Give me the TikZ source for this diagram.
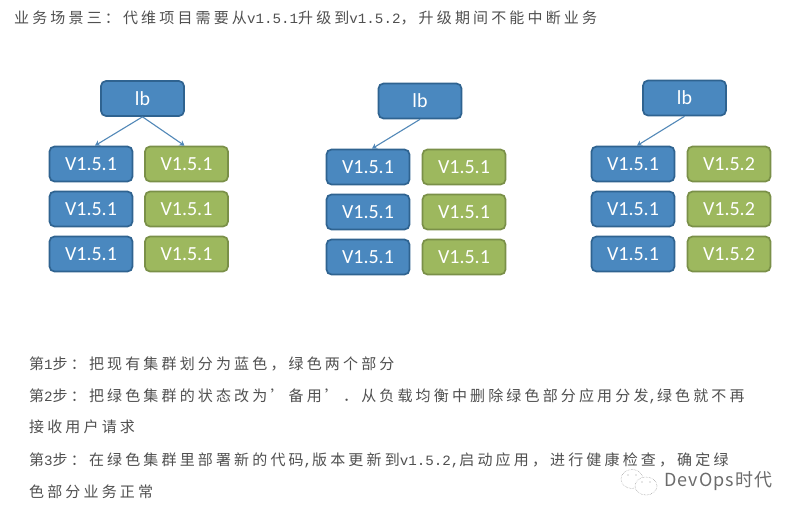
\documentclass[tikz,border=0pt]{standalone}
\usepackage{fontspec}
\setmainfont{Carlito}
\newfontfamily\cjkf[LetterSpace=21]{Noto Sans CJK SC}
\newfontfamily\wmf[LetterSpace=6]{Noto Sans CJK SC}
\newfontfamily\latf{Liberation Mono}
\newcommand{\lt}[1]{{\fontsize{14.2}{17}\selectfont\latf #1}}
\definecolor{bluefill}{HTML}{4A88BF}
\definecolor{blueedge}{HTML}{2F6390}
\definecolor{greenfill}{HTML}{9DB85E}
\definecolor{greenedge}{HTML}{7A9048}
\definecolor{txt}{HTML}{505050}
\definecolor{linkc}{HTML}{5288B8}
\usetikzlibrary{arrows.meta}
\tikzset{
  x=1pt,y=-1pt,
  box/.style={rounded corners=5pt,line width=1.7pt,minimum width=83pt,minimum height=35pt,inner sep=0pt,text=white,font=\fontsize{20}{22}\selectfont},
  bb/.style={box,draw=blueedge,fill=bluefill},
  gb/.style={box,draw=greenedge,fill=greenfill,text=white},
  link/.style={draw=linkc,line width=1.1pt,-{Stealth[length=5pt,width=6pt]}},
  para/.style={anchor=west,inner sep=0pt,text=txt,font=\fontsize{15}{17}\selectfont\cjkf},
  wm/.style={draw=gray!80,line width=.5pt,densely dotted}
}
\begin{document}
\begin{tikzpicture}
\useasboundingbox (0,0) rectangle (800,518);
\fill[white] (0,0) rectangle (800,518);
\node[para] (title) at (14,18) {业务场景三：代维项目需要从\lt{v1.5.1}升级到\lt{v1.5.2}，升级期间不能中断业务};
% group 1
\node[bb] (a0) at (142.5,98.5) {lb};
\node[bb] (a1) at (91,164) {V1.5.1};
\node[bb] (a2) at (91,209) {V1.5.1};
\node[bb] (a3) at (91,254) {V1.5.1};
\node[gb] (b1) at (186.5,164) {V1.5.1};
\node[gb] (b2) at (186.5,209) {V1.5.1};
\node[gb] (b3) at (186.5,254) {V1.5.1};
\draw[link] (a0.south) -- ([xshift=4pt]a1.north);
\draw[link] (a0.south) -- ([xshift=-2pt]b1.north);
% group 2
\node[bb] (c0) at (420,101) {lb};
\node[bb] (c1) at (368,167) {V1.5.1};
\node[bb] (c2) at (368,212) {V1.5.1};
\node[bb] (c3) at (368,257) {V1.5.1};
\node[gb] (d1) at (464,167) {V1.5.1};
\node[gb] (d2) at (464,212) {V1.5.1};
\node[gb] (d3) at (464,257) {V1.5.1};
\draw[link] (c0.south) -- ([xshift=4pt]c1.north);
% group 3
\node[bb] (e0) at (684.5,98) {lb};
\node[bb] (e1) at (633,164) {V1.5.1};
\node[bb] (e2) at (633,209) {V1.5.1};
\node[bb] (e3) at (633,254) {V1.5.1};
\node[gb] (f1) at (729,164) {V1.5.2};
\node[gb] (f2) at (729,209) {V1.5.2};
\node[gb] (f3) at (729,254) {V1.5.2};
\draw[link] (e0.south) -- ([xshift=4pt]e1.north);
% steps
\node[para] (s1) at (29,364) {第\lt{1}步：把现有集群划分为蓝色，绿色两个部分};
\node[para] (s2) at (29,396) {第\lt{2}步：把绿色集群的状态改为’备用’．从负载均衡中删除绿色部分应用分发\lt{,}绿色就不再};
\node[para] (s2b) at (29,427) {接收用户请求};
\node[para] (s3) at (29,460) {第\lt{3}步：在绿色集群里部署新的代码\lt{,}版本更新到\lt{v1.5.2,}启动应用，进行健康检查，确定绿};
\node[para] (s3b) at (29,492) {色部分业务正常};
% watermark
\draw[wm] (632,479) ellipse (11pt and 9.5pt);
\draw[wm,fill=white] (646,486) ellipse (11pt and 9pt);
\fill[gray!80] (628,475) circle (.6pt) (636,475) circle (.6pt) (642,482) circle (.6pt) (650,482) circle (.6pt);
\node[anchor=west,inner sep=0pt,text=gray!85!black,font=\fontsize{18}{20}\selectfont\wmf] (wm) at (664,481) {DevOps时代};
\end{tikzpicture}
\end{document}
